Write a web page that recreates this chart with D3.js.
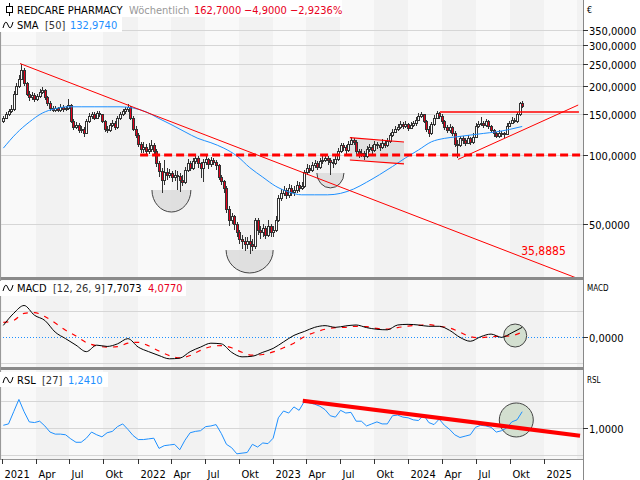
<!DOCTYPE html>
<html>
<head>
<meta charset="utf-8">
<script src="https://cdn.jsdelivr.net/npm/d3@7"></script>
<style>
body { margin: 0; background: #fff; }
svg { display: block; }
text { font-family: "DejaVu Sans Condensed", "DejaVu Sans", sans-serif; font-size: 11px; }
</style>
</head>
<body>
<svg id="chart" width="640" height="480"></svg>
<script>
// weekly candles, first week starts 2021-01-04 (open = previous close)
var firstOpen = 140;
var closes = [145,150,155,158,185,200,215,235,205,185,
  178,182,176,180,188,192,178,168,160,157,
  160,157,162,158,160,165,140,132,135,128,
  130,125,140,148,150,145,152,150,140,130,
  128,135,138,132,145,150,155,158,162,145,
  130,122,112,106,108,104,106,110,104,92,
  85,78,84,82,83,80,82,81,78,76,
  86,92,88,94,97,92,88,93,96,91,
  95,93,90,80,77,72,58,52,54,50,
  46,43,42,41,42,41,40,52,47,46,
  48,45,49,46,47,52,65,68,70,67,
  72,69,70,74,72,73,84,88,86,90,
  92,89,94,95,97,95,93,92,96,104,
  110,108,105,112,116,114,104,100,102,99,
  106,108,105,112,110,108,113,110,115,122,
  126,130,132,136,134,136,131,135,137,142,
  148,150,140,130,124,136,145,152,148,140,
  132,128,132,125,112,110,118,116,113,118,
  114,120,134,136,138,135,140,133,128,124,
  121,125,124,123,134,138,142,140,150,167.6,
  162.7];
var highs = [148,153,158,165,190,206,222,250,238,208,
  190,187,186,185,194,198,194,180,171,163,
  164,162,166,165,163,175,167,143,139,137,
  134,132,143,152,154,153,156,155,151,142,
  133,138,142,140,148,154,158,162,167,164,
  147,133,124,114,114,112,113,116,113,106,
  94,88,95,88,87,85,86,85,83,82,
  89,96,94,97,101,99,93,96,100,97,
  98,97,95,91,82,78,73,60,56,55,
  51,47,45,44,44,45,43,53,53,49,
  50,49,52,50,49,54,67,71,73,72,
  75,74,73,77,76,76,86,91,90,93,
  95,94,97,99,101,99,97,96,99,107,
  113,113,110,115,120,119,116,106,106,104,
  109,112,110,115,114,113,117,115,119,125,
  130,134,136,140,139,140,138,139,141,146,
  152,154,151,142,133,139,149,156,154,150,
  142,135,136,134,127,116,121,121,118,122,
  120,124,137,140,146,141,144,142,135,130,
  126,128,127,126,137,141,146,145,153,170,
  172];
var lows = [138,143,147,152,156,182,196,212,200,180,
  172,174,170,172,177,184,174,164,156,153,
  154,153,154,154,155,157,137,128,129,124,
  125,120,123,138,144,142,143,146,137,126,
  124,126,132,128,130,142,147,151,154,142,
  127,118,108,102,102,100,101,103,100,89,
  80,68,74,78,79,76,77,70,69,73,
  75,84,85,86,91,88,79,76,90,87,
  89,90,86,78,74,68,56,49,50,47,
  44,41,39,38,39,37,38,39,45,43,
  44,43,44,44,44,46,51,63,66,64,
  65,66,66,68,69,70,72,82,83,84,
  88,86,87,91,93,90,82,88,90,94,
  102,104,101,103,110,110,101,97,98,95,
  97,103,101,103,106,104,106,107,108,113,
  120,124,127,130,130,131,127,129,132,134,
  140,145,137,126,120,122,134,143,144,136,
  128,124,125,121,108,97,108,112,109,111,
  110,112,118,131,133,131,132,129,124,120,
  118,119,120,119,122,132,136,137,138,148,
  160];

// SMA 50, read every 5 weeks
var sma50 = [107,124,139,152,159,162,162,162,162,162,
  160,154,144,135,126,118,113,107,99,88,
  80,73,69,67,67,67,68,71,76,82,
  89,97,105,114,118,120,122,124,126,129,
  133];
// MACD and signal, read every 4 weeks
var macdLine = [9.2,18.5,24.5,17,13,4,-1,-6,-11,-6,
  -7,-5,-1,-7.5,-11,-14,-16.5,-16,-11,-7.5,
  -4.5,-5,-11.5,-15,-14.5,-11.5,-8.5,-3.5,1.5,4.5,
  7.7,9,7.7,8.8,9.5,7.5,6.2,5.8,9.5,10,
  9.5,8.5,8.5,5.4,0,-3,0.5,2.5,0,3.5,
  7.7];
var signalLine = [11.5,13,18.5,19,16,11,5.5,1,-4,-6.5,
  -7.5,-7.2,-4.5,-3.8,-6.5,-10.5,-14,-15.8,-14,-10,
  -7.2,-6.3,-8,-11.5,-13.7,-13.2,-11.2,-8,-4.5,0.5,
  3.8,6.2,7.5,7.7,8.5,8.2,6.9,6.4,7.5,8.7,
  9.2,9.8,8.5,7.2,4,0.5,-0.3,0.5,0.8,1.3,
  4.1];
// RSL 27, read every 2 weeks
var rsl = [1.04,1.06,1.24,1.42,1.24,1.09,1.08,1.10,1.03,0.94,
  0.91,0.91,0.90,0.84,0.79,0.79,0.85,0.94,0.90,0.87,
  0.93,0.95,1.02,1.06,0.98,0.89,0.83,0.83,0.84,0.85,
  0.70,0.74,0.75,0.76,0.68,0.82,0.93,0.95,0.96,1.02,
  1.03,1.05,0.92,0.76,0.71,0.62,0.63,0.64,0.76,0.72,
  0.78,0.77,0.85,1.15,1.25,1.22,1.31,1.26,1.39,1.37,
  1.35,1.32,1.27,1.18,1.16,1.26,1.22,1.23,1.10,1.10,
  1.03,1.06,1.09,1.06,1.06,1.18,1.19,1.16,1.15,1.12,
  1.11,1.19,1.08,1.05,1.13,1.04,0.98,0.90,0.86,0.88,
  0.90,1.01,1.04,1.03,1.01,0.94,0.96,1.00,1.09,1.12,
  1.24];

var priceTicks = [50, 100, 150, 200, 250, 300, 350];
var macdGrid = [-20, 20];
var rslGrid = [0.6, 1.0, 1.4];
var quarterNames = ["", "Apr", "Jul", "Okt"];

// header values
var lastClose = 162.7, change = -4.9, changePct = -2.9236;
var smaLast = 132.974, macdLast = 7.7073, signalLast = 4.077, rslLast = 1.241;

// drawn annotations (date, price)
var downTrend = [["2021-02-18", 250], ["2024-11-04", 35.8885]];
var supportStart = "2022-01-08", supportLevel = 100;
var flag = {from: "2023-07-28", to: "2023-12-21", top: [118.8, 113.8], bottom: [95.0, 91.3]};
var triTop = {from: "2024-03-27", to: "2025-04-06", level: 153.7};
var triRise = [["2024-05-15", 95.6], ["2025-04-04", 164.9]];
var bowls = [
  {from: "2022-02-09", to: "2022-05-25", top: 70.3, bottom: 56.4},
  {from: "2022-08-28", to: "2023-01-02", top: 38.5, bottom: 30.6},
  {from: "2023-04-30", to: "2023-07-12", top: 83.4, bottom: 71.8}
];
var rslTrend = [["2023-03-23", 1.40], ["2025-04-09", 0.887]];
var macdRing = {date: "2024-10-16", value: 1.4, r: 11.5};
var rslRing = {date: "2024-10-19", value: 1.118, r: 17};

var parse = d3.timeParse("%Y-%m-%d");
var de = d3.formatLocale({decimal: ",", thousands: ".", grouping: [3], currency: ["", "€"]});
var f4 = de.format(".4f");

var svg = d3.select("#chart");
var W = 583;
var P = {top: 0, bottom: 277}, M = {top: 280, bottom: 367}, R = {top: 370, bottom: 459};

var x = d3.scaleTime().domain([new Date(2020, 11, 26), new Date(2025, 3, 17)]).range([0, W]);
var y = d3.scaleLog().domain([29.39, 472.7]).range([P.bottom, P.top]);
var yM = d3.scaleLinear().domain([-22.8, 44.1]).range([M.bottom, M.top]);
var yR = d3.scaleLinear().domain([0.544, 1.853]).range([R.bottom, R.top]);

function weekDate(i) { return new Date(2021, 0, 4 + 7 * i); }

var red = "#ff0000", blue = "#1e90ff", dark = "#333";

var defs = svg.append("defs");
[["clipP", P], ["clipM", M], ["clipR", R]].forEach(function(c) {
  defs.append("clipPath").attr("id", c[0]).append("rect")
    .attr("x", 0).attr("y", c[1].top)
    .attr("width", W).attr("height", c[1].bottom - c[1].top);
});

// quarter bands in every panel
var quarters = d3.timeMonth.every(3).range(new Date(2020, 9, 1), new Date(2025, 6, 1));
[P, M, R].forEach(function(p) {
  svg.append("g").selectAll("rect")
    .data(quarters)
    .enter()
    .append("rect")
    .attr("x", function(d) { return Math.round(Math.max(0, x(d))); })
    .attr("width", function(d) {
      return Math.max(0, Math.round(Math.min(W, x(d3.timeMonth.offset(d, 3)))) - Math.round(Math.max(0, x(d))));
    })
    .attr("y", p.top)
    .attr("height", p.bottom - p.top)
    .attr("fill", function(d) { return d.getMonth() % 6 == 0 ? "#f9f9f9" : "#f2f2f2"; });
});

// gridlines
function grid(vals, scale) {
  svg.append("g").selectAll("line")
    .data(vals)
    .enter()
    .append("line")
    .attr("x1", 0).attr("x2", W)
    .attr("y1", function(d) { return Math.round(scale(d)) + 0.5; })
    .attr("y2", function(d) { return Math.round(scale(d)) + 0.5; })
    .attr("stroke", "#d6d6d6");
}
grid(priceTicks, y);
grid(macdGrid, yM);
grid(rslGrid, yR);

// ---- price panel ----
var gp = svg.append("g").attr("clip-path", "url(#clipP)");

// rounding bottoms
bowls.forEach(function(b) {
  var x1 = x(parse(b.from)), x2 = x(parse(b.to));
  var yt = y(b.top), rx = (x2 - x1) / 2, ry = y(b.bottom) - yt;
  gp.append("path")
    .attr("d", "M" + x1 + "," + yt + "A" + rx + "," + ry + " 0 0 0 " + x2 + "," + yt + "Z")
    .attr("fill", "#dcdcdc").attr("fill-opacity", 0.85);
  gp.append("path")
    .attr("d", "M" + x1 + "," + yt + "A" + rx + "," + ry + " 0 0 0 " + x2 + "," + yt)
    .attr("fill", "none").attr("stroke", "#444").attr("stroke-width", 1);
});

// flag channel
var fx1 = x(parse(flag.from)), fx2 = x(parse(flag.to));
gp.append("path")
  .attr("d", "M" + fx1 + "," + y(flag.top[0]) + "L" + fx2 + "," + y(flag.top[1]) +
    "L" + fx2 + "," + y(flag.bottom[1]) + "L" + fx1 + "," + y(flag.bottom[0]) + "Z")
  .attr("fill", "#d9d9d9").attr("fill-opacity", 0.8);

// candles
var candles = closes.map(function(c, i) {
  return {date: weekDate(i), o: i == 0 ? firstOpen : closes[i - 1], h: highs[i], l: lows[i], c: c};
});
var cg = gp.append("g");
candles.forEach(function(d) {
  var cx = Math.round(x(d.date));
  cg.append("line")
    .attr("x1", cx + 0.5).attr("x2", cx + 0.5)
    .attr("y1", Math.round(y(d.h))).attr("y2", Math.round(y(d.l)))
    .attr("stroke", dark);
  var top = Math.round(y(Math.max(d.o, d.c))), bot = Math.round(y(Math.min(d.o, d.c)));
  cg.append("rect")
    .attr("x", cx - 0.5).attr("y", top + 0.5)
    .attr("width", 2).attr("height", Math.max(1, bot - top))
    .attr("fill", d.c < d.o ? "#e8001c" : "#fff")
    .attr("stroke", dark);
});

// SMA 50
gp.append("path")
  .datum(sma50)
  .attr("fill", "none").attr("stroke", blue).attr("stroke-width", 1)
  .attr("d", d3.line()
    .x(function(d, i) { return x(weekDate(i * 5)); })
    .y(function(d) { return y(d); })
    .curve(d3.curveMonotoneX));

// long downtrend, extended to the right edge
var t0 = parse(downTrend[0][0]), t1 = parse(downTrend[1][0]);
var k = (Math.log(downTrend[1][1]) - Math.log(downTrend[0][1])) / (t1 - t0);
var tEnd = x.domain()[1];
var pEnd = Math.exp(Math.log(downTrend[0][1]) + k * (tEnd - t0));
gp.append("line")
  .attr("x1", x(t0)).attr("y1", y(downTrend[0][1]))
  .attr("x2", x(tEnd)).attr("y2", y(pEnd))
  .attr("stroke", red).attr("stroke-width", 1);
gp.append("text")
  .attr("x", x(t1) - 1).attr("y", y(downTrend[1][1]) - 2)
  .attr("fill", red).style("font-size", "12px")
  .text(de.format(".4f")(downTrend[1][1]));

// support line at 100
gp.append("line")
  .attr("x1", x(parse(supportStart))).attr("x2", W)
  .attr("y1", y(supportLevel)).attr("y2", y(supportLevel))
  .attr("stroke", red).attr("stroke-width", 3).attr("stroke-dasharray", "8,4");

// flag borders
gp.append("line")
  .attr("x1", fx1).attr("y1", y(flag.top[0])).attr("x2", fx2).attr("y2", y(flag.top[1]))
  .attr("stroke", red).attr("stroke-width", 1.2);
gp.append("line")
  .attr("x1", fx1).attr("y1", y(flag.bottom[0])).attr("x2", fx2).attr("y2", y(flag.bottom[1]))
  .attr("stroke", red).attr("stroke-width", 1.2);

// ascending triangle
gp.append("line")
  .attr("x1", x(parse(triTop.from))).attr("x2", x(parse(triTop.to)))
  .attr("y1", y(triTop.level)).attr("y2", y(triTop.level))
  .attr("stroke", red).attr("stroke-width", 1.4);
gp.append("line")
  .attr("x1", x(parse(triRise[0][0]))).attr("y1", y(triRise[0][1]))
  .attr("x2", x(parse(triRise[1][0]))).attr("y2", y(triRise[1][1]))
  .attr("stroke", red).attr("stroke-width", 1);

// ---- MACD panel ----
var gm = svg.append("g").attr("clip-path", "url(#clipM)");
gm.append("line")
  .attr("x1", 0).attr("x2", W)
  .attr("y1", Math.round(yM(0)) + 0.5).attr("y2", Math.round(yM(0)) + 0.5)
  .attr("stroke", blue).attr("stroke-dasharray", "1,2");
var mLine = d3.line()
  .x(function(d, i) { return x(weekDate(i * 4)); })
  .y(function(d) { return yM(d); })
  .curve(d3.curveMonotoneX);
gm.append("circle")
  .attr("cx", x(parse(macdRing.date))).attr("cy", yM(macdRing.value)).attr("r", macdRing.r)
  .attr("fill", "#d3dfd0").attr("stroke", "#444");
gm.append("path").datum(signalLine)
  .attr("fill", "none").attr("stroke", red).attr("stroke-width", 1.2)
  .attr("stroke-dasharray", "5,6").attr("d", mLine);
gm.append("path").datum(macdLine)
  .attr("fill", "none").attr("stroke", "#000").attr("stroke-width", 1).attr("d", mLine);

// ---- RSL panel ----
var gr = svg.append("g").attr("clip-path", "url(#clipR)");
gr.append("circle")
  .attr("cx", x(parse(rslRing.date))).attr("cy", yR(rslRing.value)).attr("r", rslRing.r)
  .attr("fill", "#d3dfd0").attr("stroke", "#444");
gr.append("path").datum(rsl)
  .attr("fill", "none").attr("stroke", blue).attr("stroke-width", 1)
  .attr("d", d3.line()
    .x(function(d, i) { return x(weekDate(i * 2)); })
    .y(function(d) { return yR(d); }));
gr.append("line")
  .attr("x1", x(parse(rslTrend[0][0]))).attr("y1", yR(rslTrend[0][1]))
  .attr("x2", x(parse(rslTrend[1][0]))).attr("y2", yR(rslTrend[1][1]))
  .attr("stroke", red).attr("stroke-width", 4);

// ---- frame ----
svg.append("rect").attr("x", 0).attr("y", P.bottom).attr("width", W).attr("height", 3).attr("fill", "#8a8a8a");
svg.append("rect").attr("x", 0).attr("y", M.bottom).attr("width", W).attr("height", 3).attr("fill", "#8a8a8a");
svg.append("line").attr("x1", 0.5).attr("x2", 0.5).attr("y1", 0).attr("y2", R.bottom).attr("stroke", "#999");
svg.append("line").attr("x1", 0).attr("x2", W).attr("y1", R.bottom + 0.5).attr("y2", R.bottom + 0.5).attr("stroke", "#999");
svg.append("line").attr("x1", W + 0.5).attr("x2", W + 0.5).attr("y1", 0).attr("y2", 480).attr("stroke", "#888");

// right axes
function rightAxis(vals, scale) {
  var g = svg.append("g");
  vals.forEach(function(v) {
    var yy = Math.round(scale(v)) + 0.5;
    g.append("line").attr("x1", W).attr("x2", W + 5).attr("y1", yy).attr("y2", yy).attr("stroke", dark);
    g.append("text").attr("x", W + 6).attr("y", yy + 4).attr("fill", "#000").text(f4(v));
  });
}
rightAxis(priceTicks, y);
rightAxis([0], yM);
rightAxis([1], yR);
svg.append("text").attr("x", W + 4).attr("y", 13).style("font-size", "9px").text("€");
svg.append("text").attr("x", W + 4).attr("y", M.top + 11).style("font-size", "8px").text("MACD");
svg.append("text").attr("x", W + 4).attr("y", R.top + 13).style("font-size", "8px").text("RSL");

// bottom time axis
var tickDates = d3.timeMonth.every(3).range(new Date(2021, 0, 1), new Date(2025, 0, 2));
var xa = svg.append("g");
tickDates.forEach(function(d) {
  var xx = Math.round(x(d)) + 0.5;
  xa.append("line").attr("x1", xx).attr("x2", xx).attr("y1", R.bottom).attr("y2", R.bottom + 5).attr("stroke", dark);
  xa.append("text").attr("x", xx + 2).attr("y", R.bottom + 19).attr("fill", "#000")
    .text(d.getMonth() == 0 ? d.getFullYear() : quarterNames[d.getMonth() / 3]);
});

// header legends
function wave(g, yc) {
  g.append("path")
    .attr("d", "M3," + (yc + 3) + "Q5.5," + (yc - 7) + " 8," + yc + "Q10.5," + (yc + 7) + " 13," + (yc - 3))
    .attr("fill", "none").attr("stroke", "#000").attr("stroke-width", 1);
}
var hg = svg.append("g");
hg.append("rect").attr("x", 0).attr("y", 0).attr("width", 342).attr("height", 17).attr("fill", "#fff");
hg.append("rect").attr("x", 0).attr("y", 17).attr("width", 122).attr("height", 15).attr("fill", "#fff");
hg.append("line").attr("x1", 9.5).attr("x2", 9.5).attr("y1", 3).attr("y2", 16).attr("stroke", "#000");
hg.append("rect").attr("x", 6.5).attr("y", 6.5).attr("width", 6).attr("height", 6).attr("fill", "#fff").attr("stroke", "#000");
hg.append("text").attr("x", 17).attr("y", 14).attr("fill", "#000").text("REDCARE PHARMACY");
hg.append("text").attr("x", 129).attr("y", 14).attr("fill", "#999").text("Wöchentlich");
hg.append("text").attr("x", 194).attr("y", 14).attr("fill", "#e8001c").text(f4(lastClose));
hg.append("text").attr("x", 244).attr("y", 14).attr("fill", "#e8001c").text(f4(change));
hg.append("text").attr("x", 290).attr("y", 14).attr("fill", "#e8001c").text(f4(changePct) + "%");
wave(hg, 25);
hg.append("text").attr("x", 17).attr("y", 29).attr("fill", "#000").text("SMA");
hg.append("text").attr("x", 45).attr("y", 29).attr("fill", "#333").text("[50]");
hg.append("text").attr("x", 70).attr("y", 29).attr("fill", blue).text(f4(smaLast));

var mg = svg.append("g");
mg.append("rect").attr("x", 0).attr("y", M.top + 1).attr("width", 186).attr("height", 15).attr("fill", "#fff");
wave(mg, M.top + 8);
mg.append("text").attr("x", 17).attr("y", M.top + 12).attr("fill", "#000").text("MACD");
mg.append("text").attr("x", 53).attr("y", M.top + 12).attr("fill", "#333").text("[12, 26, 9]");
mg.append("text").attr("x", 107).attr("y", M.top + 12).attr("fill", "#000").text(f4(macdLast));
mg.append("text").attr("x", 148).attr("y", M.top + 12).attr("fill", "#e8001c").text(f4(signalLast));

var rg = svg.append("g");
rg.append("rect").attr("x", 0).attr("y", R.top + 2).attr("width", 108).attr("height", 15).attr("fill", "#fff");
wave(rg, R.top + 10);
rg.append("text").attr("x", 17).attr("y", R.top + 14).attr("fill", "#000").text("RSL");
rg.append("text").attr("x", 42).attr("y", R.top + 14).attr("fill", "#333").text("[27]");
rg.append("text").attr("x", 68).attr("y", R.top + 14).attr("fill", blue).text(f4(rslLast));
</script>
</body>
</html>
